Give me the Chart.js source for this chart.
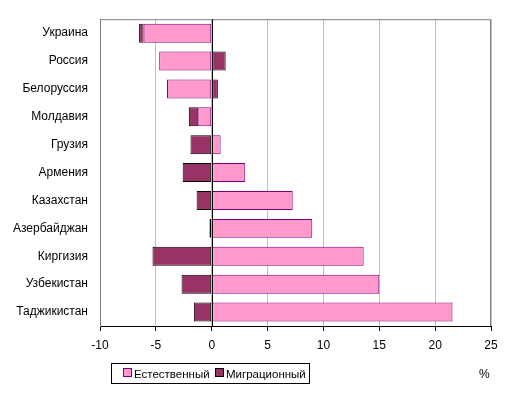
<!DOCTYPE html>
<html>
<head>
<meta charset="utf-8">
<script src="https://cdn.jsdelivr.net/npm/chart.js@4"></script>
<style>
    html, body { margin: 0; padding: 0; background: #fff; }
    #wrap { position: relative; width: 516px; height: 396px; font-family: "Liberation Sans", Arial, sans-serif; }
    #chart { display: block; }
    #legend {
        position: absolute; left: 111px; top: 363px; width: 197px; height: 19px;
        border: 1px solid #000; font-size: 11.5px; color: #000;
    }
    .item { position: absolute; top: 3px; line-height: 14px; white-space: nowrap; }
    .sw { display: inline-block; width: 7px; height: 7px; border: 1px solid; margin-right: 2px; vertical-align: 1px; }
    #pct { position: absolute; left: 479px; top: 367px; font-size: 12px; }
</style>
</head>
<body>
<div id="wrap">
    <canvas id="chart" width="516" height="396"></canvas>
    <div id="legend">
        <span class="item" style="left: 11px;"><span class="sw" style="background:#FF99CC;border-color:#800080"></span>Естественный</span>
        <span class="item" style="left: 103px;"><span class="sw" style="background:#993366;border-color:#000"></span>Миграционный</span>
    </div>
    <div id="pct">%</div>
</div>
<script>
// страны (сверху вниз)
const countries = ['Украина', 'Россия', 'Белоруссия', 'Молдавия', 'Грузия', 'Армения',
    'Казахстан', 'Азербайджан', 'Киргизия', 'Узбекистан', 'Таджикистан'];
// естественный прирост, %
const natural = [-6.1, -4.7, -4.0, -1.2, 0.8, 3.0, 7.25, 9.0, 13.6, 15.0, 21.55];
// миграционный прирост, %
const migration = [-0.4, 1.25, 0.55, -0.85, -1.9, -2.6, -1.35, -0.2, -5.3, -2.7, -1.6];
// деления оси X
const xMin = -10;
const xMax = 25;
const xStep = 5;

// рамка области построения
const frame = {
    id: 'frame',
    afterDraw(chart) {
        const { ctx, chartArea: a } = chart;
        ctx.save();
        ctx.strokeStyle = '#808080';
        ctx.lineWidth = 1;
        ctx.beginPath();
        ctx.moveTo(a.left + 0.5, a.bottom);
        ctx.lineTo(a.left + 0.5, a.top + 0.5);
        ctx.lineTo(a.right - 0.5, a.top + 0.5);
        ctx.lineTo(a.right - 0.5, a.bottom);
        ctx.stroke();
        // нулевая линия поверх столбцов
        const x0 = Math.round(chart.scales.x.getPixelForValue(0)) + 0.5;
        ctx.strokeStyle = '#000';
        ctx.beginPath();
        ctx.moveTo(x0, a.top);
        ctx.lineTo(x0, a.bottom);
        ctx.stroke();
        ctx.restore();
    }
};

new Chart(document.getElementById('chart'), {
    type: 'bar',
    data: {
        labels: countries,
        datasets: [
            {
                label: 'Естественный',
                data: natural,
                backgroundColor: '#FF99CC',
                borderColor: '#800080',
                borderWidth: 1,
                borderSkipped: false
            },
            {
                label: 'Миграционный',
                data: migration,
                backgroundColor: '#993366',
                borderColor: '#000000',
                borderWidth: 1,
                borderSkipped: false
            }
        ]
    },
    options: {
        indexAxis: 'y',
        responsive: false,
        animation: false,
        barPercentage: 0.68,
        categoryPercentage: 1,
        layout: { padding: { top: 15, right: 25, left: 0, bottom: 0 } },
        plugins: {
            legend: { display: false },
            tooltip: { enabled: false }
        },
        scales: {
            x: {
                stacked: true,
                min: xMin,
                max: xMax,
                ticks: {
                    stepSize: xStep,
                    color: '#000',
                    padding: 7,
                    font: { family: '"Liberation Sans", Arial, sans-serif', size: 12 }
                },
                grid: {
                    color: '#C0C0C0',
                    tickColor: '#000',
                    tickLength: 5
                },
                border: { color: '#000' },
                afterFit(scale) { scale.height = 70; }
            },
            y: {
                stacked: true,
                ticks: {
                    color: '#000',
                    padding: 12,
                    font: { family: '"Liberation Sans", Arial, sans-serif', size: 12 }
                },
                grid: { display: false, drawTicks: false },
                border: { color: '#808080' },
                afterFit(scale) { scale.width = 100; }
            }
        }
    },
    plugins: [frame]
});
</script>
</body>
</html>
